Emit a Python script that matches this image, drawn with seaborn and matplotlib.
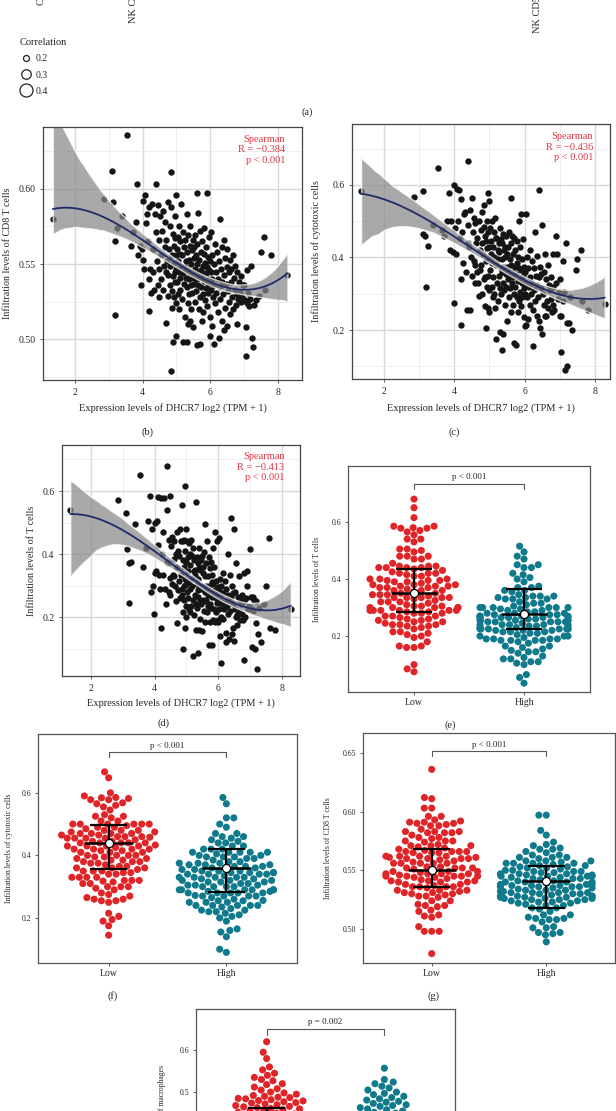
import numpy as np
import pandas as pd
import matplotlib
matplotlib.use('Agg')
import matplotlib.pyplot as plt
from matplotlib.collections import PolyCollection
from matplotlib.lines import Line2D
from matplotlib.ticker import FormatStrFormatter
import seaborn as sns

sns.set_style('white')
plt.rcParams['font.family'] = ['Liberation Serif', 'DejaVu Serif']

# DHCR7 expression, log2(TPM + 1), one value per sample (shared by panels b-g)
expr = [1.35, 2.85, 3.10, 3.12, 3.18, 3.20, 3.25, 3.40, 3.55, 3.65, 3.72, 3.80, 3.85, 3.88,
        3.92, 3.95, 3.98, 4.00, 4.02, 4.05, 4.08, 4.10, 4.12, 4.15, 4.18, 4.20, 4.20, 4.22, 4.25, 4.28, 4.30, 4.32, 4.35, 4.38, 4.40, 4.40, 4.42, 4.45, 4.45, 4.48, 4.50, 4.50, 4.52, 4.55, 4.55, 4.58, 4.60, 4.60, 4.62, 4.65,
        4.66, 4.68, 4.70, 4.70, 4.72, 4.74, 4.75, 4.76, 4.78, 4.80, 4.80, 4.82, 4.84, 4.85, 4.85, 4.86, 4.88, 4.88, 4.90, 4.90, 4.91, 4.92, 4.93, 4.94, 4.95, 4.95, 4.96, 4.97, 4.98, 4.99, 5.00, 5.00, 5.00,
        5.02, 5.03, 5.04, 5.05, 5.06, 5.07, 5.08, 5.09, 5.10, 5.10, 5.12, 5.12, 5.14, 5.15, 5.16, 5.18, 5.19, 5.20, 5.20, 5.22, 5.23, 5.24, 5.25, 5.26, 5.27, 5.28, 5.30, 5.30, 5.31, 5.32, 5.33, 5.34, 5.35, 5.35, 5.36, 5.37, 5.38, 5.39, 5.40, 5.40, 5.41, 5.42, 5.43, 5.44, 5.45, 5.46, 5.47, 5.48, 5.49, 5.50,
        5.51, 5.52, 5.53, 5.54, 5.55, 5.56, 5.57, 5.58, 5.59, 5.60, 5.60, 5.61, 5.62, 5.63, 5.64, 5.65, 5.66, 5.67, 5.68, 5.69, 5.70, 5.70, 5.72, 5.73, 5.74, 5.75, 5.76, 5.77, 5.78, 5.79, 5.80, 5.81, 5.82, 5.83, 5.84, 5.85, 5.86, 5.87, 5.88, 5.89, 5.90, 5.90, 5.92, 5.93, 5.94, 5.95, 5.96, 5.97, 5.98, 5.99,
        6.00, 6.01, 6.02, 6.03, 6.04, 6.05, 6.06, 6.08, 6.10, 6.10, 6.12, 6.14, 6.15, 6.16, 6.18, 6.20, 6.22, 6.24, 6.25, 6.26, 6.28, 6.30, 6.30, 6.32, 6.34, 6.35, 6.36, 6.38, 6.40, 6.40, 6.42, 6.44, 6.45, 6.46, 6.48, 6.50, 6.50,
        6.52, 6.54, 6.55, 6.57, 6.58, 6.60, 6.62, 6.64, 6.66, 6.68, 6.70, 6.72, 6.74, 6.76, 6.78, 6.80, 6.80, 6.82, 6.85, 6.88, 6.90, 6.92, 6.95, 6.98,
        7.00, 7.02, 7.05, 7.05, 7.08, 7.10, 7.12, 7.15, 7.18, 7.20, 7.22, 7.25, 7.28, 7.35, 7.45, 7.50, 7.60, 7.62, 7.80, 8.28]

# infiltration of CD8 T cells
cd8 = [.580, .593, .612, .591, .565, .516, .574, .582, .636, .562, .571, .578, .603, .556,
       .562, .536, .560, .592, .553, .547, .596, .577, .583, .565, .540, .519, .588, .547, .531, .590, .560, .545, .533, .583, .603, .571, .552, .536, .589, .566, .547, .528, .582, .556, .540, .572, .533, .585, .549, .561,
       .578, .545, .511, .566, .552, .529, .591, .543, .560, .536, .575, .549, .588, .611, .479, .532, .556, .521, .498, .570, .542, .562, .528, .551, .582, .538, .567, .545, .556, .524, .596, .547, .502,
       .560, .538, .552, .568, .530, .545, .575, .520, .557, .541, .565, .533, .549, .590, .527, .556, .544, .498, .571, .537, .561, .548, .515, .566, .541, .552, .498, .583, .535, .558, .546, .524, .510, .569, .540, .553, .530, .562, .512, .544, .575, .536, .550, .520, .559, .545, .531, .566, .541, .508,
       .554, .537, .561, .547, .525, .569, .540, .556, .532, .597, .496, .550, .563, .536, .544, .584, .520, .553, .541, .528, .497, .572, .546, .535, .558, .512, .543, .565, .530, .549, .518, .557, .539, .574, .526, .551, .544, .534, .561, .548, .597, .522, .540, .555, .531, .546, .568, .537, .552, .515,
       .502, .545, .533, .571, .540, .509, .556, .528, .497, .550, .536, .563, .524, .545, .531, .558, .540, .518, .501, .552, .535, .580, .527, .547, .512, .538, .561, .530, .566, .543, .506, .554, .521, .537, .548, .509, .560,
       .532, .545, .525, .553, .517, .538, .547, .528, .556, .520, .541, .533, .549, .523, .530, .510, .545, .527, .538, .531, .525, .542, .528, .536,
       .536, .526, .489, .508, .546, .524, .531, .522, .527, .549, .501, .495, .523, .526, .529, .558, .568, .533, .556, .543]

# infiltration of cytotoxic cells
cyto = [.582, .568, .584, .465, .458, .318, .433, .490, .648, .475, .460, .500, .578, .420,
        .500, .415, .275, .600, .480, .410, .590, .500, .585, .455, .340, .215, .560, .470, .385, .520, .525, .360, .255, .440, .667, .490, .430, .255, .530, .400, .565, .350, .470, .510, .390, .380, .330, .495, .440, .360,
        .455, .330, .295, .500, .420, .365, .475, .380, .440, .300, .525, .410, .485, .545, .340, .345, .460, .265, .205, .445, .390, .500, .320, .425, .578, .260, .470, .350, .400, .310, .555, .430, .250,
        .480, .365, .410, .445, .320, .385, .500, .290, .430, .345, .470, .300, .400, .510, .260, .455, .380, .175, .455, .330, .420, .395, .280, .440, .350, .415, .195, .480, .315, .450, .370, .300, .145, .440, .360, .395, .330, .465, .190, .375, .420, .310, .400, .270, .430, .355, .320, .460, .375, .225,
        .410, .340, .430, .365, .290, .470, .350, .395, .315, .565, .250, .380, .440, .330, .360, .460, .270, .410, .345, .300, .165, .455, .375, .320, .420, .160, .355, .445, .290, .385, .250, .400, .335, .500, .280, .370, .340, .305, .430, .365, .520, .265, .330, .395, .290, .350, .450, .315, .375, .235,
        .210, .360, .300, .520, .330, .215, .400, .290, .230, .370, .320, .420, .270, .345, .300, .390, .330, .255, .155, .370, .310, .470, .280, .350, .240, .325, .405, .290, .585, .345, .225, .375, .205, .315, .355, .190, .490,
        .300, .360, .270, .410, .240, .240, .340, .280, .380, .260, .325, .310, .345, .285, .250, .270, .410, .320, .255, .330, .460, .410, .285, .305,
        .340, .240, .140, .240, .390, .280, .305, .090, .440, .100, .220, .220, .290, .200, .365, .395, .420, .280, .256, .272]

# infiltration of T cells
tcell = [.540, .570, .530, .415, .370, .245, .375, .495, .650, .360, .420, .505, .585, .280,
         .480, .300, .210, .500, .340, .345, .505, .430, .580, .335, .290, .165, .578, .400, .335, .470, .578, .290, .240, .375, .680, .540, .370, .280, .445, .325, .585, .270, .425, .455, .305, .335, .330, .440, .385, .300,
         .400, .250, .180, .470, .360, .285, .410, .315, .395, .260, .480, .335, .440, .555, .270, .290, .380, .215, .100, .440, .300, .445, .255, .360, .615, .165, .410, .320, .305, .235, .480, .375, .200,
         .440, .280, .345, .390, .260, .310, .435, .225, .365, .290, .400, .215, .320, .445, .235, .395, .300, .075, .420, .255, .380, .345, .205, .350, .270, .335, .160, .565, .240, .390, .305, .230, .085, .370, .285, .320, .265, .420, .160, .290, .355, .250, .350, .195, .380, .300, .240, .395, .290, .155,
         .340, .255, .360, .290, .220, .405, .280, .330, .250, .495, .185, .300, .370, .255, .295, .440, .215, .330, .270, .235, .110, .390, .300, .240, .355, .185, .280, .375, .230, .310, .110, .335, .265, .420, .190, .305, .275, .225, .360, .285, .470, .185, .260, .315, .215, .270, .440, .245, .295, .190,
         .185, .285, .225, .450, .255, .140, .320, .200, .055, .300, .240, .340, .195, .275, .225, .315, .250, .150, .120, .290, .235, .400, .210, .270, .130, .250, .335, .220, .515, .265, .145, .300, .165, .240, .275, .125, .480,
         .225, .280, .200, .370, .175, .205, .265, .215, .330, .190, .255, .240, .270, .210, .190, .065, .340, .250, .200, .260, .345, .300, .225, .235,
         .415, .265, .105, .225, .265, .220, .255, .100, .250, .180, .035, .145, .230, .120, .240, .300, .450, .165, .160, .225]

# macrophage infiltration per group (panel h, mostly below the page edge)
mac_low = [0.620, 0.595, 0.580, 0.560, 0.553, 0.545, 0.540, 0.535, 0.530, 0.527, 0.520, 0.518, 0.512, 0.508, 0.505, 0.500,
           0.498, 0.495, 0.492, 0.490, 0.488, 0.487, 0.485, 0.484, 0.482, 0.480, 0.479, 0.477, 0.475, 0.474, 0.472, 0.470,
           0.468, 0.466, 0.465, 0.463, 0.461, 0.460, 0.458, 0.456, 0.455, 0.452, 0.450, 0.448, 0.446, 0.444, 0.442, 0.440,
           0.438, 0.436, 0.433, 0.430, 0.428, 0.426, 0.424, 0.421, 0.419, 0.416, 0.414, 0.412, 0.410, 0.407, 0.405, 0.402,
           0.400, 0.398, 0.395, 0.392, 0.390, 0.387, 0.384, 0.381, 0.378, 0.375, 0.372, 0.369, 0.366, 0.362, 0.358, 0.354,
           0.350, 0.345, 0.340, 0.335, 0.330, 0.324, 0.318, 0.312, 0.305, 0.298, 0.290, 0.282, 0.273, 0.262, 0.250, 0.238]
mac_high = [0.557, 0.530, 0.524, 0.520, 0.514, 0.510, 0.505, 0.500, 0.497, 0.494, 0.490, 0.487, 0.484, 0.481, 0.478, 0.476,
            0.473, 0.470, 0.468, 0.466, 0.463, 0.460, 0.458, 0.455, 0.452, 0.450, 0.447, 0.445, 0.442, 0.440, 0.437, 0.434,
            0.431, 0.428, 0.425, 0.422, 0.419, 0.416, 0.413, 0.410, 0.407, 0.404, 0.401, 0.398, 0.395, 0.392, 0.389, 0.386,
            0.383, 0.380, 0.377, 0.374, 0.371, 0.368, 0.365, 0.362, 0.359, 0.355, 0.351, 0.347, 0.343, 0.339, 0.335, 0.330,
            0.325, 0.320, 0.315, 0.310, 0.304, 0.298, 0.292, 0.285, 0.278, 0.270, 0.262, 0.254, 0.245, 0.235, 0.224, 0.212]

groups = ['Low', 'High']
tcell_mid, tcell_lo, tcell_hi = [0.351, 0.277], [0.284, 0.224], [0.435, 0.365]
cyto_mid, cyto_lo, cyto_hi = [0.441, 0.359], [0.355, 0.282], [0.496, 0.422]
cd8_mid, cd8_lo, cd8_hi = [0.550, 0.541], [0.536, 0.518], [0.568, 0.554]
mac_mid, mac_lo, mac_hi = [0.410, 0.380], [0.360, 0.330], [0.462, 0.440]

spearman_r = {'cd8': '−0.384', 'cyto': '−0.436', 'tcell': '−0.413'}
corr_levels = [0.2, 0.3, 0.4]

RED, TEAL = '#e02528', '#0f7a8b'
W, H = 616, 1111


def box(l, t, r, b):
    return [l / W, 1 - b / H, (r - l) / W, (b - t) / H]


fig = plt.figure(figsize=(W / 100, H / 100), dpi=100)

# leftovers of panel (a): cut tick labels and size legend
for xp, yb, lab in [(42, 5, 'Cytotoxic cells'), (133, 23, 'NK CD56dim cells'), (538, 33, 'NK CD56bright cells')]:
    fig.text(xp / W, 1 - yb / H, lab, rotation=90, ha='center', va='bottom', fontsize=7.5)
handles = [Line2D([], [], marker='o', ls='', mfc='none', mec='#222', mew=0.9, ms=4.3 + (c - 0.2) * 25.5)
           for c in corr_levels]
fig.legend(handles, [f'{c:.1f}' for c in corr_levels], title='Correlation', loc='upper left',
           bbox_to_anchor=(20 / W, 1 - 38 / H), frameon=False, fontsize=7, title_fontsize=7.5,
           alignment='left', handletextpad=0.4, labelspacing=0.75, borderpad=0, borderaxespad=0,
           handlelength=1.2)
fig.text(307 / W, 1 - 112 / H, '(a)', ha='center', va='center', fontsize=7.5)


def scatter_panel(rect, y, ylabel, r, xlim, ylim, yticks, yminor, fmt, lab_x, xlab_y):
    ax = fig.add_axes(rect)
    sns.regplot(x=np.array(expr), y=np.array(y), ax=ax, order=3, ci=85, n_boot=1000, seed=3,
                truncate=True,
                scatter_kws=dict(s=21, color='#151515', linewidths=0, alpha=1),
                line_kws=dict(color='#1f2c6c', lw=1.3))
    for c in ax.collections:
        if isinstance(c, PolyCollection):
            c.set_facecolor('#888888')
            c.set_alpha(0.72)
    ax.set_xlim(*xlim)
    ax.set_ylim(*ylim)
    ax.set_xticks([2, 4, 6, 8])
    ax.set_xticks([3, 5, 7], minor=True)
    ax.set_yticks(yticks)
    ax.set_yticks(yminor, minor=True)
    ax.yaxis.set_major_formatter(FormatStrFormatter(fmt))
    ax.grid(True, which='major', color='#d8d8d8', lw=1.0)
    ax.grid(True, which='minor', color='#ebebeb', lw=0.6)
    ax.set_axisbelow(True)
    ax.tick_params(which='major', bottom=True, left=True, direction='out', length=2.5, width=0.6,
                   color='#444', labelsize=7, pad=3)
    ax.tick_params(which='minor', length=0)
    for s in ax.spines.values():
        s.set_color('#444')
        s.set_linewidth(0.9)
    ax.set_xlabel('Expression levels of DHCR7 log2 (TPM + 1)', fontsize=7.5)
    ax.set_ylabel(ylabel, fontsize=7.2)
    ax.yaxis.set_label_coords(lab_x, 0.5)
    ax.xaxis.set_label_coords(0.5, xlab_y)
    ax.text(0.935, 0.968, f'Spearman\nR = {r}\np < 0.001', transform=ax.transAxes, ha='right',
            va='top', color='#e23542', fontsize=7.5, linespacing=1.2, multialignment='right')
    return ax


scatter_panel(box(43, 127, 302, 380), cd8, 'Infiltration levels of CD8 T cells', spearman_r['cd8'],
              (1.06, 8.71), (0.473, 0.641), [0.50, 0.55, 0.60], [0.475, 0.525, 0.575, 0.625], '%.2f',
              -0.12, -0.09)
scatter_panel(box(352, 124, 610, 379), cyto, 'Infiltration levels of cytotoxic cells', spearman_r['cyto'],
              (1.09, 8.43), (0.065, 0.768), [0.2, 0.4, 0.6], [0.1, 0.3, 0.5, 0.7], '%.1f',
              -0.12, -0.094)
scatter_panel(box(62, 445, 300, 676), tcell, 'Infiltration levels of T cells', spearman_r['tcell'],
              (1.09, 8.57), (0.013, 0.746), [0.2, 0.4, 0.6], [0.1, 0.3, 0.5, 0.7], '%.1f',
              -0.11, -0.095)

# median split of DHCR7 expression for the swarm panels
group = np.where(np.array(expr) < np.median(expr), 'Low', 'High')


def swarm_panel(rect, values, grp, ylabel, ylim, yticks, fmt, mid, lo, hi, ptext, lab_x, lab_y=0.5,
                show_x=True):
    ax = fig.add_axes(rect)
    df = pd.DataFrame({'group': grp, 'value': values})
    sns.swarmplot(data=df, x='group', y='value', order=groups, hue='group',
                  palette={'Low': RED, 'High': TEAL}, size=5.1, linewidth=0, legend=False, ax=ax)
    ax.set_xlim(-0.6, 1.6)
    ax.set_ylim(*ylim)
    pos = np.arange(len(groups))
    ax.vlines(pos, lo, hi, color='black', lw=1.6, zorder=5)
    ax.hlines(lo, pos - 0.16, pos + 0.16, color='black', lw=1.6, zorder=5)
    ax.hlines(hi, pos - 0.16, pos + 0.16, color='black', lw=1.6, zorder=5)
    ax.hlines(mid, pos - 0.21, pos + 0.21, color='black', lw=1.8, zorder=5)
    ax.scatter(pos, mid, s=34, facecolor='white', edgecolor='black', linewidths=0.9, zorder=6)
    tr = ax.get_xaxis_transform()
    ax.plot([0, 0, 1, 1], [0.898, 0.92, 0.92, 0.898], color='#555', lw=0.8, transform=tr)
    ax.text(0.5, 0.932, ptext, transform=tr, ha='center', va='bottom', fontsize=6.5)
    ax.set_yticks(yticks)
    ax.yaxis.set_major_formatter(FormatStrFormatter(fmt))
    ax.tick_params(axis='y', left=True, direction='out', length=2.5, width=0.6, color='#444',
                   labelsize=5.6, pad=2.5)
    ax.tick_params(axis='x', bottom=True, direction='out', length=2, width=0.6, color='#444',
                   labelsize=7, pad=2, labelbottom=show_x)
    for s in ax.spines.values():
        s.set_color('#555')
        s.set_linewidth(0.9)
    ax.set_xlabel('')
    ax.set_ylabel(ylabel, fontsize=5.6)
    ax.yaxis.set_label_coords(lab_x, lab_y)
    return ax


swarm_panel(box(348, 466, 590, 692), tcell, group, 'Infiltration levels of T cells',
            (0.004, 0.796), [0.2, 0.4, 0.6], '%.1f', tcell_mid, tcell_lo, tcell_hi, 'p < 0.001', -0.112)
swarm_panel(box(38, 734, 297, 963), cyto, group, 'Infiltration levels of cytotoxic cells',
            (0.056, 0.788), [0.2, 0.4, 0.6], '%.1f', cyto_mid, cyto_lo, cyto_hi, 'p < 0.001', -0.097)
swarm_panel(box(363, 733, 615, 963), cd8, group, 'Infiltration levels of CD8 T cells',
            (0.471, 0.667), [0.50, 0.55, 0.60, 0.65], '%.2f', cd8_mid, cd8_lo, cd8_hi, 'p < 0.001', -0.123)
mac_vals = mac_low + mac_high
mac_grp = ['Low'] * len(mac_low) + ['High'] * len(mac_high)
# panel (h) runs past the bottom of the page: only its upper ticks are on the page
swarm_panel(box(196, 1009, 455, 1260), mac_vals, mac_grp, 'Infiltration levels of macrophages',
            (0.10, 0.698), [0.5, 0.6], '%.1f', mac_mid, mac_lo, mac_hi, 'p = 0.002',
            -0.116, 0.566, show_x=False)

for xp, yp, lab in [(148, 432, '(b)'), (454, 432, '(c)'), (163, 723, '(d)'), (450, 725, '(e)'),
                    (113, 996, '(f)'), (433, 996, '(g)')]:
    fig.text(xp / W, 1 - yp / H, lab, ha='center', va='center', fontsize=7.5)

fig.savefig('out.png', dpi=100)
